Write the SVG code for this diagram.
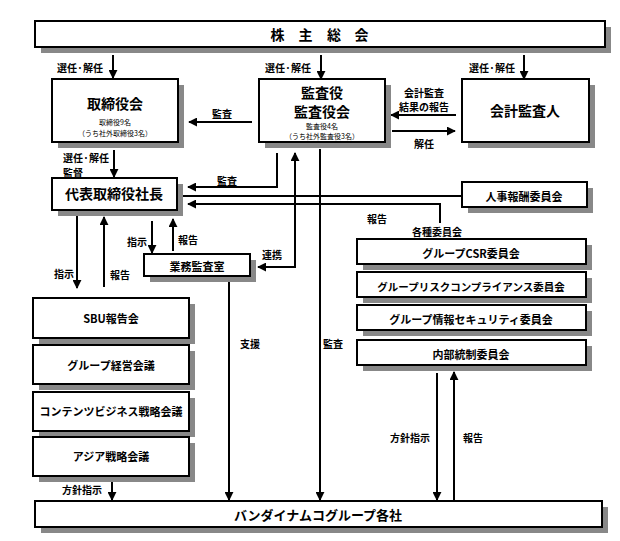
<svg xmlns="http://www.w3.org/2000/svg" width="620" height="541" viewBox="0 0 620 541">
<style>
text{font-family:"Noto Sans CJK JP","Noto Sans",sans-serif;font-weight:bold;fill:#000;dominant-baseline:central;text-anchor:middle}
.box{fill:#fff;stroke:#000;stroke-width:2}
.sh{fill:#888}
.t14{font-size:14px}
.t13{font-size:13px}
.t11{font-size:11px}
.t8{font-size:7px;font-weight:normal}
.lb{font-size:10px}
.ln{fill:none;stroke:#000;stroke-width:2}
.ar{marker-end:url(#ah)}
</style>
<defs>
<marker id="ah" markerUnits="userSpaceOnUse" viewBox="0 0 10 10" markerWidth="9" markerHeight="9" refX="9" refY="5" orient="auto-start-reverse"><path d="M0,0 L10,5 L0,10 z" fill="#000"/></marker>
</defs>
<rect width="620" height="541" fill="#fff"/>

<g id="connectors">
<line class="ln ar" x1="113" y1="55" x2="113" y2="78"/>
<line class="ln ar" x1="321" y1="55" x2="321" y2="79"/>
<line class="ln ar" x1="524" y1="55" x2="524" y2="79"/>
<line class="ln ar" x1="252" y1="122" x2="189" y2="122"/>
<line class="ln ar" x1="456" y1="115" x2="391" y2="115"/>
<line class="ln ar" x1="392" y1="131" x2="455" y2="131"/>
<line class="ln ar" x1="114" y1="150" x2="114" y2="177"/>
<path class="ln ar" d="M277,153 V187 H188"/>
<line class="ln" x1="178" y1="196" x2="462" y2="196"/>
<path class="ln ar" d="M440,223 V204 H188"/>
<path class="ln ar" d="M295,153 V267 H258" marker-start="url(#ah)"/>
<line class="ln ar" x1="320" y1="149" x2="320" y2="500"/>
<line class="ln ar" x1="152" y1="221" x2="152" y2="253"/>
<line class="ln ar" x1="173" y1="251" x2="173" y2="219"/>
<line class="ln ar" x1="77" y1="216" x2="77" y2="288"/>
<line class="ln ar" x1="104" y1="287" x2="104" y2="217"/>
<line class="ln ar" x1="229" y1="276" x2="229" y2="500"/>
<line class="ln ar" x1="112" y1="476" x2="112" y2="500"/>
<line class="ln ar" x1="437" y1="373" x2="437" y2="500"/>
<line class="ln ar" x1="454" y1="500" x2="454" y2="372"/>
</g>

<g id="labels">
<text class="lb" x="80" y="67">選任·解任</text>
<text class="lb" x="288" y="67">選任·解任</text>
<text class="lb" x="492" y="67">選任·解任</text>
<text class="lb" x="222" y="113">監査</text>
<text class="lb" x="424" y="92">会計監査</text>
<text class="lb" x="424" y="106">結果の報告</text>
<text class="lb" x="424" y="143">解任</text>
<text class="lb" x="63" y="157" style="text-anchor:start">選任·解任</text>
<text class="lb" x="63" y="172" style="text-anchor:start">監督</text>
<text class="lb" x="227" y="180">監査</text>
<text class="lb" x="377" y="218">報告</text>
<text class="lb" x="437" y="231">各種委員会</text>
<text class="lb" x="137" y="241">指示</text>
<text class="lb" x="188" y="239">報告</text>
<text class="lb" x="272" y="254">連携</text>
<text class="lb" x="64" y="273">指示</text>
<text class="lb" x="120" y="274">報告</text>
<text class="lb" x="250" y="343">支援</text>
<text class="lb" x="333" y="343">監査</text>
<text class="lb" x="82" y="489">方針指示</text>
<text class="lb" x="410" y="437">方針指示</text>
<text class="lb" x="473" y="437">報告</text>
</g>

<g id="shareholders">
<rect class="sh" x="41" y="27" width="570" height="26"/>
<rect class="box" x="35" y="21" width="570" height="26"/>
<text class="t14" x="277.5" y="34">株</text>
<text class="t14" x="305.5" y="34">主</text>
<text class="t14" x="334" y="34">総</text>
<text class="t14" x="361.5" y="34">会</text>
</g>

<g id="board">
<rect class="sh" x="58" y="85" width="126" height="63"/>
<rect class="box" x="52" y="79" width="126" height="63"/>
<text class="t14" x="115" y="103">取締役会</text>
<text class="t8" x="115" y="122">取締役9名</text>
<text class="t8" x="115" y="133">（うち社外取締役3名）</text>
</g>

<g id="auditors">
<rect class="sh" x="265" y="85" width="126" height="63"/>
<rect class="box" x="259" y="79" width="126" height="63"/>
<text class="t14" x="322" y="92">監査役</text>
<text class="t14" x="322" y="111">監査役会</text>
<text class="t8" x="322" y="126">監査役4名</text>
<text class="t8" x="322" y="136">（うち社外監査役3名）</text>
</g>

<g id="accounting-auditor">
<rect class="sh" x="468" y="85" width="127" height="63"/>
<rect class="box" x="462" y="79" width="127" height="63"/>
<text class="t14" x="525" y="110">会計監査人</text>
</g>

<g id="president">
<rect class="sh" x="58" y="184" width="125" height="32"/>
<rect class="box" x="52" y="178" width="125" height="32"/>
<text class="t14" x="114" y="193">代表取締役社長</text>
</g>

<g id="compensation">
<rect class="sh" x="468" y="188" width="125" height="25"/>
<rect class="box" x="462" y="182" width="125" height="25"/>
<text class="t11" x="524" y="196">人事報酬委員会</text>
</g>

<g id="internal-audit">
<rect class="sh" x="150" y="260" width="106" height="22"/>
<rect class="box" x="144" y="254" width="106" height="22"/>
<text class="t11" x="197" y="266">業務監査室</text>
</g>

<g id="sbu">
<rect class="sh" x="39" y="304" width="156" height="40"/>
<rect class="box" x="33" y="298" width="156" height="40"/>
<text class="t11" x="111" y="318">SBU報告会</text>
</g>
<g id="group-mgmt">
<rect class="sh" x="39" y="351" width="156" height="39"/>
<rect class="box" x="33" y="345" width="156" height="39"/>
<text class="t11" x="111" y="365">グループ経営会議</text>
</g>
<g id="contents">
<rect class="sh" x="39" y="398" width="156" height="39"/>
<rect class="box" x="33" y="392" width="156" height="39"/>
<text class="t11" x="111" y="411">コンテンツビジネス戦略会議</text>
</g>
<g id="asia">
<rect class="sh" x="39" y="443" width="156" height="39"/>
<rect class="box" x="33" y="437" width="156" height="39"/>
<text class="t11" x="111" y="456">アジア戦略会議</text>
</g>

<g id="csr">
<rect class="sh" x="363" y="245" width="229" height="25"/>
<rect class="box" x="357" y="239" width="229" height="25"/>
<text class="t11" x="471" y="253">グループCSR委員会</text>
</g>
<g id="risk">
<rect class="sh" x="363" y="278" width="229" height="25"/>
<rect class="box" x="357" y="272" width="229" height="25"/>
<text class="t11" x="471" y="286" style="font-size:10.5px">グループリスクコンプライアンス委員会</text>
</g>
<g id="infosec">
<rect class="sh" x="363" y="311" width="229" height="25"/>
<rect class="box" x="357" y="305" width="229" height="25"/>
<text class="t11" x="471" y="319">グループ情報セキュリティ委員会</text>
</g>
<g id="internal-control">
<rect class="sh" x="363" y="346" width="229" height="25"/>
<rect class="box" x="357" y="340" width="229" height="25"/>
<text class="t11" x="471" y="354">内部統制委員会</text>
</g>

<g id="group-companies">
<rect class="sh" x="41" y="507" width="567" height="26"/>
<rect class="box" x="35" y="501" width="567" height="26"/>
<text class="t13" x="318" y="514">バンダイナムコグループ各社</text>
</g>
</svg>
